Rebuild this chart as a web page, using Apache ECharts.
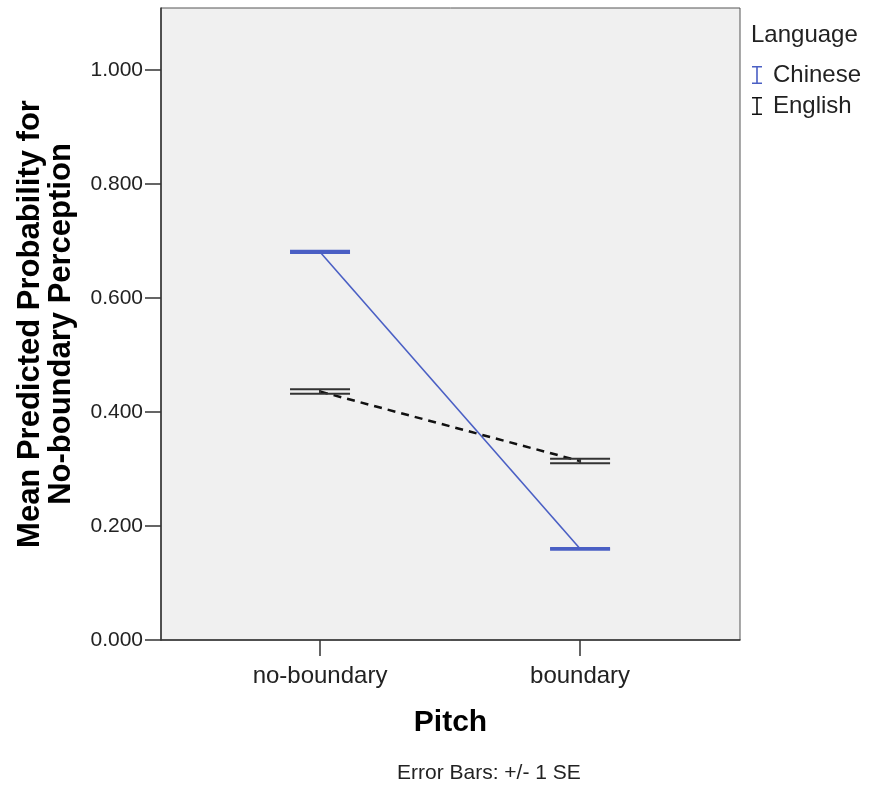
<!DOCTYPE html>
<html>
<head>
<meta charset="utf-8">
<style>
html,body{margin:0;padding:0;background:#fff;}
#chart{width:871px;height:788px;}
</style>
<script src="https://cdn.jsdelivr.net/npm/echarts@6/dist/echarts.min.js"></script>
</head>
<body>
<div id="chart"></div>
<script>
// ---- data ----
const categories = ['no-boundary', 'boundary'];
const categoryPos = [1, 2];
const chineseMean = [0.681, 0.160];
const chineseSE = [0.0015, 0.001];
const englishMean = [0.436, 0.314];
const englishSE = [0.004, 0.004];
const yTicks = [0, 0.2, 0.4, 0.6, 0.8, 1.0];

const blue = '#4a5fc4';
const black = '#111111';
const FONT = '"Liberation Sans", Arial, sans-serif';
const barIcon = 'path://M0,0H10V1.6H5.8V16.4H10V18H0V16.4H4.2V1.6H0Z M16,17.99H16.01V18H16Z';

function lineData(means) {
  return categoryPos.map((x, i) => [x, means[i]]);
}
function errData(means, se) {
  return categoryPos.map((x, i) => [x, means[i] - se[i], means[i] + se[i]]);
}
function makeRender(color, w) {
  return function (params, api) {
    const x = api.value(0);
    const lo = api.coord([x, api.value(1)]);
    const hi = api.coord([x, api.value(2)]);
    const hw = 30;
    const st = { stroke: color, lineWidth: w };
    return {
      type: 'group',
      children: [
        { type: 'line', shape: { x1: hi[0] - hw, y1: hi[1], x2: hi[0] + hw, y2: hi[1] }, style: st },
        { type: 'line', shape: { x1: lo[0] - hw, y1: lo[1], x2: lo[0] + hw, y2: lo[1] }, style: st },
        { type: 'line', shape: { x1: hi[0], y1: hi[1], x2: lo[0], y2: lo[1] }, style: st }
      ]
    };
  };
}

const chart = echarts.init(document.getElementById('chart'), null, { renderer: 'canvas' });
chart.setOption({
  animation: false,
  backgroundColor: '#ffffff',
  textStyle: { fontFamily: FONT },
  title: [
    { text: 'Language', left: 746, top: 18,
      textStyle: { fontFamily: FONT, fontSize: 24, fontWeight: 'normal', color: '#222' } },
    { text: 'Error Bars: +/- 1 SE', left: 392, top: 758,
      textStyle: { fontFamily: FONT, fontSize: 21, fontWeight: 'normal', color: '#222' } }
  ],
  legend: {
    orient: 'vertical',
    left: 747,
    top: 58,
    itemWidth: 16,
    itemHeight: 18,
    itemGap: 7,
    textStyle: { fontFamily: FONT, fontSize: 24, color: '#222' },
    data: [
      { name: 'Chinese', icon: barIcon, itemStyle: { color: blue } },
      { name: 'English', icon: barIcon, itemStyle: { color: black } }
    ]
  },
  grid: {
    left: 161, right: 131, top: 8, bottom: 148,
    show: true, backgroundColor: '#f0f0f0', borderColor: '#555', borderWidth: 1
  },
  xAxis: {
    type: 'value',
    min: 0.3885, max: 2.615,
    name: 'Pitch',
    nameLocation: 'middle',
    nameGap: 68,
    nameTextStyle: { fontFamily: FONT, fontSize: 30, fontWeight: 'bold', color: '#000' },
    splitLine: { show: false },
    axisLine: { show: true, lineStyle: { color: '#333', width: 1.5 } },
    axisTick: { show: true, length: 16, customValues: categoryPos, lineStyle: { color: '#333', width: 1.5 } },
    axisLabel: {
      customValues: categoryPos,
      margin: 24,
      fontFamily: FONT, fontSize: 24, color: '#222',
      formatter: v => { const i = categoryPos.indexOf(v); return i >= 0 ? categories[i] : ''; }
    }
  },
  yAxis: {
    type: 'value',
    min: 0, max: 1.109,
    name: 'Mean Predicted Probability for\nNo-boundary Perception',
    nameLocation: 'middle',
    nameGap: 84,
    nameTextStyle: { fontFamily: FONT, fontSize: 31, fontWeight: 'bold', color: '#000', lineHeight: 31 },
    splitLine: { show: false },
    axisLine: { show: true, lineStyle: { color: '#333', width: 1.5 } },
    axisTick: { show: true, length: 16, customValues: yTicks, lineStyle: { color: '#333', width: 1.5 } },
    axisLabel: {
      customValues: yTicks,
      margin: 18,
      fontFamily: FONT, fontSize: 21, color: '#222',
      formatter: v => v.toFixed(3)
    }
  },
  series: [
    {
      name: 'Chinese', type: 'line', data: lineData(chineseMean),
      showSymbol: false, symbol: 'none', color: blue,
      lineStyle: { color: blue, width: 1.6, type: 'solid' }, z: 3
    },
    {
      name: 'English', type: 'line', data: lineData(englishMean),
      showSymbol: false, symbol: 'none', color: black,
      lineStyle: { color: black, width: 2.5, type: [8, 6] }, z: 3
    },
    {
      name: 'Chinese', type: 'custom', data: errData(chineseMean, chineseSE),
      renderItem: makeRender(blue, 2.5), color: blue, z: 4
    },
    {
      name: 'English', type: 'custom', data: errData(englishMean, englishSE),
      renderItem: makeRender('#333', 2), color: black, z: 4
    }
  ]
});
</script>
</body>
</html>
